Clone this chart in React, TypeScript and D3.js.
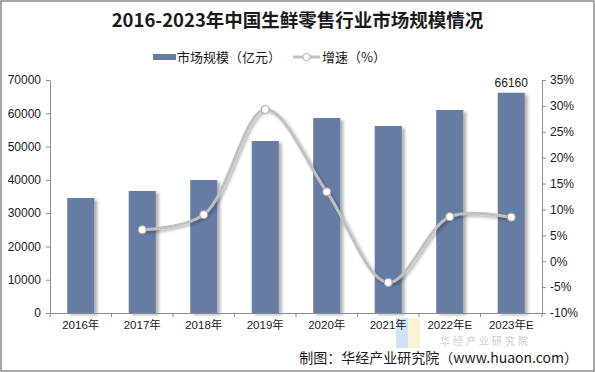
import { axisBottom, axisLeft, axisRight, curveCatmullRom, line, scaleBand, scaleLinear, select } from 'd3';
import { useEffect, useRef } from 'react';

const categories = ['2016年', '2017年', '2018年', '2019年', '2020年', '2021年', '2022年E', '2023年E'];
const marketSize = [34550, 36650, 39960, 51670, 58580, 56180, 60990, 66160];
const growth = [null, 6.1, 9.0, 29.3, 13.4, -4.1, 8.6, 8.5];
const leftTicks = [0, 10000, 20000, 30000, 40000, 50000, 60000, 70000];
const rightTicks = [-10, -5, 0, 5, 10, 15, 20, 25, 30, 35];

const WIDTH = 595;
const HEIGHT = 372;
const MARGIN = { top: 80, right: 53, bottom: 59, left: 50 };
const BAR_COLOR = '#667ba3';
const LINE_COLOR = '#c0c0c0';
const TEXT = '#1a1a1a';
const FONT = 'Arial, "Liberation Sans", "Noto Sans CJK SC", sans-serif';
const CJK = '"Noto Sans CJK SC", sans-serif';

export default function App() {
  const leftRef = useRef<SVGGElement | null>(null);
  const rightRef = useRef<SVGGElement | null>(null);
  const bottomRef = useRef<SVGGElement | null>(null);

  const x0 = MARGIN.left;
  const x1 = WIDTH - MARGIN.right;
  const y0 = HEIGHT - MARGIN.bottom;
  const y1 = MARGIN.top;

  const xScale = scaleBand<string>().domain(categories).range([x0, x1]).paddingInner(0.56).paddingOuter(0.28);
  const outer = scaleBand<string>().domain(categories).range([x0, x1]);
  const yLeft = scaleLinear().domain([0, 70000]).range([y0, y1]);
  const yRight = scaleLinear().domain([-10, 35]).range([y0, y1]);

  const points = categories
    .map((c, i) => ({ c, v: growth[i] }))
    .filter((d) => d.v !== null) as { c: string; v: number }[];

  const path = line<{ c: string; v: number }>()
    .x((d) => (outer(d.c) ?? 0) + outer.bandwidth() / 2)
    .y((d) => yRight(d.v))
    .curve(curveCatmullRom.alpha(0.5))(points);

  useEffect(() => {
    const style = (g: any) => {
      g.select('.domain').attr('stroke', '#8c8c8c');
      g.selectAll('.tick line').attr('stroke', '#8c8c8c');
      g.selectAll('text').attr('fill', TEXT).attr('font-size', 12).attr('font-family', FONT);
    };
    if (leftRef.current) {
      select(leftRef.current)
        .call(axisLeft(yLeft).tickValues(leftTicks).tickSize(4).tickSizeOuter(0).tickPadding(5).tickFormat((d) => String(d)))
        .call(style);
    }
    if (rightRef.current) {
      select(rightRef.current)
        .call(axisRight(yRight).tickValues(rightTicks).tickSize(4).tickSizeOuter(0).tickPadding(4).tickFormat((d) => `${d}%`))
        .call(style);
    }
    if (bottomRef.current) {
      const g = select(bottomRef.current)
        .call(axisBottom(outer).tickSize(0).tickSizeOuter(0).tickPadding(8))
        .call(style);
      g.selectAll('text').attr('font-size', 11.5);
    }
  }, []);

  return (
    <svg
      width={WIDTH}
      height={HEIGHT}
      style={{ position: 'absolute', left: 0, top: 0, background: '#fff' }}
      fontFamily={FONT}
    >
      <defs>
        <filter id="barShadow" x="-20%" y="-5%" width="160%" height="110%">
          <feDropShadow dx="3" dy="2" stdDeviation="1.5" floodColor="#000" floodOpacity="0.3" />
        </filter>
        <filter id="lineShadow" x="-10%" y="-10%" width="120%" height="130%">
          <feDropShadow dx="2" dy="2" stdDeviation="1.5" floodColor="#000" floodOpacity="0.3" />
        </filter>
      </defs>
      <rect x={1} y={1} width={WIDTH - 2} height={HEIGHT - 2} fill="none" stroke="#8c8c8c" strokeWidth={1.5} />

      <text x={WIDTH / 2} y={27} textAnchor="middle" fontSize={18.5} fontWeight="bold" fill={TEXT} fontFamily={CJK}>
        2016-2023年中国生鲜零售行业市场规模情况
      </text>

      {/* legend */}
      <rect x={153} y={54} width={23} height={6} fill={BAR_COLOR} />
      <text x={177} y={62} fontSize={13} fill={TEXT} fontFamily={CJK}>市场规模（亿元）</text>
      <line x1={293} x2={320} y1={57} y2={57} stroke={LINE_COLOR} strokeWidth={3} />
      <circle cx={306.5} cy={57} r={3.5} fill="#fff" stroke={LINE_COLOR} strokeWidth={1.2} />
      <text x={322} y={62} fontSize={13} fill={TEXT} fontFamily={CJK}>增速（%）</text>

      {/* watermark */}
      <g opacity={0.5}>
        <rect x={396} y={318} width={12} height={30} fill="#9ec7f5" />
        <rect x={408} y={318} width={12} height={30} fill="#fbe8a6" />
        <text x={440} y={345} fontSize={10} fill="#b5b5b5" fontFamily={CJK} fontWeight="bold" letterSpacing={3}>华经产业研究院</text>
      </g>

      {/* bars */}
      <g filter="url(#barShadow)">
        {categories.map((c, i) => (
          <rect
            key={c}
            x={xScale(c)}
            y={yLeft(marketSize[i])}
            width={xScale.bandwidth()}
            height={y0 - yLeft(marketSize[i])}
            fill={BAR_COLOR}
          />
        ))}
      </g>

      <g ref={bottomRef} transform={`translate(0, ${y0})`} />
      {categories.concat('').map((c, i) => {
        const xx = x0 + outer.step() * i;
        return <line key={`t${i}`} x1={xx} x2={xx} y1={y0} y2={y0 + 4} stroke="#8c8c8c" />;
      })}
      <g ref={leftRef} transform={`translate(${x0}, 0)`} />
      <g ref={rightRef} transform={`translate(${x1}, 0)`} />

      {/* growth line */}
      <path d={path ?? ''} fill="none" stroke={LINE_COLOR} strokeWidth={3} filter="url(#lineShadow)" />
      {points.map((d) => (
        <circle
          key={d.c}
          cx={(outer(d.c) ?? 0) + outer.bandwidth() / 2}
          cy={yRight(d.v)}
          r={4}
          fill="#fff"
          stroke="#a6a6a6"
          strokeWidth={1.2}
        />
      ))}

      <text
        x={(xScale(categories[7]) ?? 0) + xScale.bandwidth() / 2}
        y={yLeft(marketSize[7]) - 6}
        textAnchor="middle"
        fontSize={12}
        fill={TEXT}
      >
        {marketSize[7]}
      </text>

      <text x={578} y={363} textAnchor="end" fontSize={14} fill={TEXT} fontFamily={CJK}>
        制图：华经产业研究院（www.huaon.com）
      </text>
    </svg>
  );
}
